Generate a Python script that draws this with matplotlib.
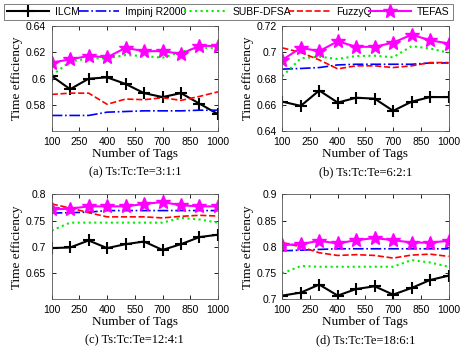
import matplotlib.pyplot as plt

# Data
tags = [100, 200, 300, 400, 500, 600, 700, 800, 900, 1000]
xticks = [100, 250, 400, 550, 700, 850, 1000]
names = ['ILCM', 'Impinj R2000', 'SUBF-DFSA', 'FuzzyQ', 'TEFAS']

ilcm_a = [0.602, 0.592, 0.600, 0.601, 0.596, 0.589, 0.586, 0.589, 0.581, 0.573]
impinj_a = [0.572, 0.572, 0.572, 0.5745, 0.575, 0.5755, 0.5755, 0.5755, 0.576, 0.576]
subf_a = [0.6025, 0.613, 0.6155, 0.6155, 0.618, 0.6173, 0.616, 0.6205, 0.6235, 0.6235]
fuzzyq_a = [0.588, 0.589, 0.589, 0.5805, 0.5845, 0.584, 0.5855, 0.5835, 0.5865, 0.590]
tefas_a = [0.6122, 0.6148, 0.6173, 0.6163, 0.6235, 0.621, 0.621, 0.619, 0.625, 0.625]

ilcm_b = [0.6625, 0.6593, 0.671, 0.6618, 0.6655, 0.6648, 0.6555, 0.6625, 0.666, 0.666]
impinj_b = [0.6873, 0.6878, 0.6885, 0.6905, 0.691, 0.691, 0.691, 0.691, 0.692, 0.692]
subf_b = [0.6818, 0.6955, 0.6968, 0.695, 0.6973, 0.6975, 0.6963, 0.7048, 0.703, 0.6998]
fuzzyq_b = [0.7035, 0.700, 0.6943, 0.6875, 0.6898, 0.6898, 0.6885, 0.6898, 0.6923, 0.6923]
tefas_b = [0.6943, 0.7035, 0.701, 0.7085, 0.7043, 0.7043, 0.7075, 0.7135, 0.7093, 0.7068]

ilcm_c = [0.6975, 0.6987, 0.712, 0.6975, 0.705, 0.710, 0.694, 0.705, 0.7185, 0.723]
impinj_c = [0.7643, 0.765, 0.766, 0.769, 0.769, 0.769, 0.769, 0.769, 0.769, 0.769]
subf_c = [0.731, 0.746, 0.746, 0.746, 0.746, 0.746, 0.746, 0.755, 0.752, 0.746]
fuzzyq_c = [0.7815, 0.774, 0.765, 0.757, 0.757, 0.757, 0.755, 0.758, 0.760, 0.7585]
tefas_c = [0.7713, 0.7726, 0.777, 0.777, 0.777, 0.7815, 0.7853, 0.779, 0.777, 0.777]

ilcm_d = [0.707, 0.7127, 0.728, 0.707, 0.7196, 0.7247, 0.7089, 0.7215, 0.7367, 0.745]
impinj_d = [0.7924, 0.7935, 0.795, 0.7962, 0.7962, 0.7962, 0.7962, 0.7962, 0.7962, 0.7962]
subf_d = [0.7494, 0.7633, 0.762, 0.762, 0.762, 0.762, 0.762, 0.7747, 0.770, 0.762]
fuzzyq_d = [0.808, 0.800, 0.7886, 0.7835, 0.785, 0.7835, 0.7785, 0.7842, 0.786, 0.7817]
tefas_d = [0.8032, 0.805, 0.8114, 0.8063, 0.8127, 0.8165, 0.8127, 0.808, 0.808, 0.8114]

panels = [
    ('(a) Ts:Tc:Te=3:1:1', [ilcm_a, impinj_a, subf_a, fuzzyq_a, tefas_a],
     (0.56, 0.64), [0.58, 0.60, 0.62, 0.64], ['0.58', '0.6', '0.62', '0.64']),
    ('(b) Ts:Tc:Te=6:2:1', [ilcm_b, impinj_b, subf_b, fuzzyq_b, tefas_b],
     (0.64, 0.72), [0.64, 0.66, 0.68, 0.70, 0.72], ['0.64', '0.66', '0.68', '0.7', '0.72']),
    ('(c) Ts:Tc:Te=12:4:1', [ilcm_c, impinj_c, subf_c, fuzzyq_c, tefas_c],
     (0.60, 0.80), [0.65, 0.70, 0.75, 0.80], ['0.65', '0.7', '0.75', '0.8']),
    ('(d) Ts:Tc:Te=18:6:1', [ilcm_d, impinj_d, subf_d, fuzzyq_d, tefas_d],
     (0.70, 0.90), [0.70, 0.75, 0.80, 0.85, 0.90], ['0.7', '0.75', '0.8', '0.85', '0.9']),
]

styles = [
    dict(color='black', linestyle='-', marker='+', markersize=9, markeredgewidth=1.5, linewidth=1.5),
    dict(color='#0000ff', linestyle='-.', linewidth=1.2),
    dict(color='#00ee00', linestyle=':', linewidth=1.5),
    dict(color='#ff0000', linestyle='--', linewidth=1.2),
    dict(color='#ff00ff', linestyle='-', marker='*', markersize=10, markeredgewidth=1.0, linewidth=1.5),
]

# Axes positions [left, bottom, width, height]
positions = [
    [0.1107, 0.6230, 0.356, 0.3017],
    [0.6045, 0.6230, 0.356, 0.3017],
    [0.1107, 0.1400, 0.356, 0.3017],
    [0.6045, 0.1400, 0.356, 0.3017],
]

serif = 'Liberation Serif'
sans = 'Liberation Sans'

fig = plt.figure(figsize=(4.67, 3.48), dpi=100)

for pos, (caption, series, ylim, yticks, ylabels) in zip(positions, panels):
    ax = fig.add_axes(pos)
    for name, values, st in zip(names, series, styles):
        ax.plot(tags, values, label=name, **st)

    ax.set_xlim(100, 1000)
    ax.set_ylim(*ylim)
    ax.set_xticks(xticks)
    ax.set_yticks(yticks)
    ax.set_yticklabels(ylabels)
    ax.tick_params(direction='in', length=3, width=0.6, labelsize=7.5,
                   top=True, right=True)
    ax.tick_params(axis='x', pad=4)
    ax.tick_params(axis='y', pad=4)
    for lbl in ax.get_xticklabels() + ax.get_yticklabels():
        lbl.set_fontfamily(sans)
    for s in ax.spines.values():
        s.set_linewidth(0.6)
        s.set_color('#555555')

    ax.set_xlabel('Number of Tags', fontfamily=serif, fontsize=9.5, labelpad=1)
    ax.set_ylabel('Time efficiency', fontfamily=serif, fontsize=9.5, labelpad=2)
    ax.text(0.5, -0.33, caption, transform=ax.transAxes, ha='center', va='top',
            fontfamily=serif, fontsize=9)

# Legend
handles, labels = fig.axes[0].get_legend_handles_labels()
leg = fig.legend(handles, labels, loc='lower left', ncol=5, mode='expand',
                 bbox_to_anchor=(0.009, 0.942, 0.961, 0.05),
                 prop={'family': sans, 'size': 7.5}, handlelength=4.0,
                 handletextpad=0.6, columnspacing=1.0, borderaxespad=0,
                 borderpad=0.3, fancybox=False, edgecolor='#444444')
leg.get_frame().set_linewidth(0.6)

fig.savefig('out.png', dpi=100)
